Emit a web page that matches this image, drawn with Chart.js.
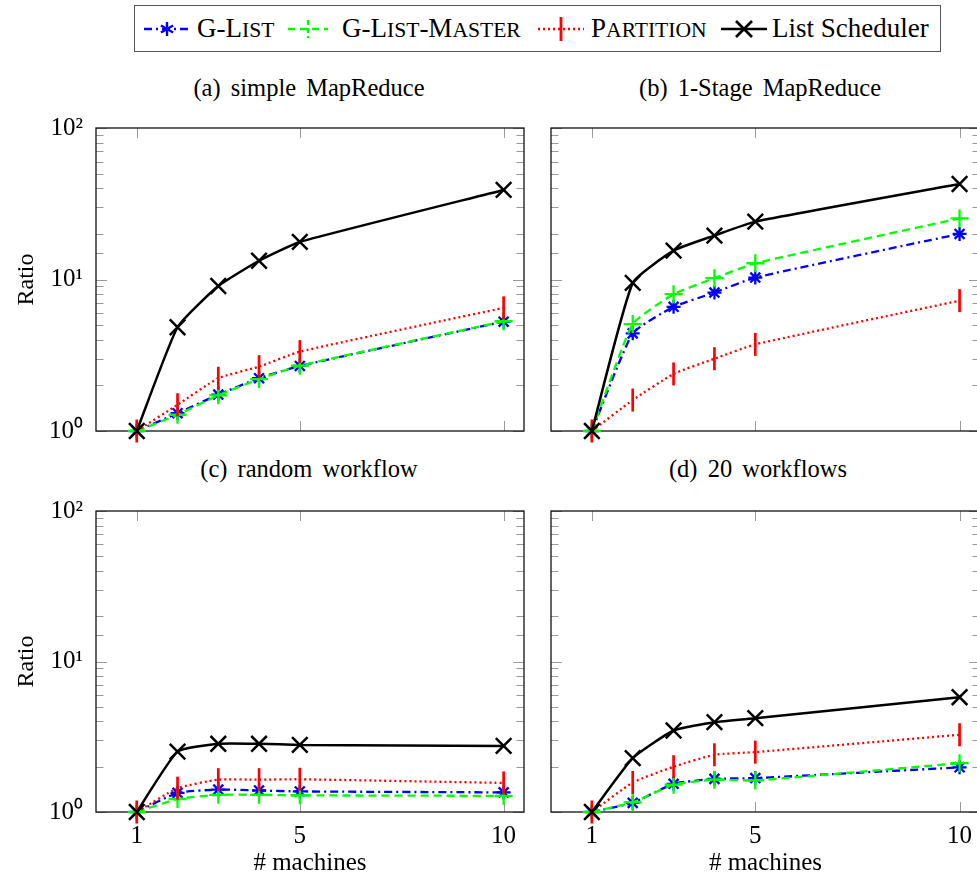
<!DOCTYPE html>
<html>
<head>
<meta charset="utf-8">
<script src="https://cdn.jsdelivr.net/npm/chart.js@4.4.1/dist/chart.umd.min.js"></script>
<style>
  html, body { margin: 0; padding: 0; background: #fff; overflow: hidden; }
  #page { position: relative; width: 977px; height: 878px; overflow: hidden; font-family: 'Liberation Serif', 'Times New Roman', serif; color: #000; }
  .legend { position: absolute; left: 134px; top: 5px; width: 807px; height: 47px; box-sizing: border-box; border: 1.5px solid #555; font-size: 27px; }
  .legend svg, .legend .txt { position: absolute; }
  .legend svg { top: 11px; }
  .legend .txt { top: 6px; line-height: 32px; white-space: nowrap; }
  .sc { font-size: 0.8em; }
  .panel-title { position: absolute; width: 400px; margin-left: -200px; text-align: center; font-size: 24.5px; word-spacing: 4px; line-height: 28px; }
  .panel { position: absolute; }
</style>
</head>
<body>
<div id="page">
  <div class="legend">
    <svg style="left:8px" width="48" height="24"><line x1="1" y1="12" x2="47" y2="12" stroke="#0000ff" stroke-width="2.4" stroke-dasharray="8 4 2 4"/><g stroke="#0000ff" stroke-width="2.4"><line x1="24" y1="5" x2="24" y2="19"/><line x1="17.9" y1="8.5" x2="30.1" y2="15.5"/><line x1="17.9" y1="15.5" x2="30.1" y2="8.5"/></g></svg>
    <span class="txt" style="left:62px">G-L<span class="sc">IST</span></span>
    <svg style="left:152px" width="42" height="24"><line x1="1" y1="12" x2="41" y2="12" stroke="#00ff00" stroke-width="2.4" stroke-dasharray="7 5"/><line x1="21" y1="3" x2="21" y2="21" stroke="#00ff00" stroke-width="2.4" stroke-dasharray="5 3"/></svg>
    <span class="txt" style="left:207px">G-L<span class="sc">IST</span>-M<span class="sc">ASTER</span></span>
    <svg style="left:402px" width="48" height="26"><line x1="1" y1="12" x2="47" y2="12" stroke="#ff0000" stroke-width="2.4" stroke-dasharray="2 3"/><line x1="24" y1="0" x2="24" y2="24" stroke="#ff0000" stroke-width="2.8"/></svg>
    <span class="txt" style="left:456px">P<span class="sc">ARTITION</span></span>
    <svg style="left:585px" width="48" height="24"><line x1="1" y1="12" x2="47" y2="12" stroke="#000" stroke-width="2.6"/><g stroke="#000" stroke-width="2.6"><line x1="16" y1="4" x2="32" y2="20"/><line x1="16" y1="20" x2="32" y2="4"/></g></svg>
    <span class="txt" style="left:637px">List Scheduler</span>
  </div>

  <div class="panel-title" style="left:309px; top:74px;">(a) simple MapReduce</div>
  <div class="panel-title" style="left:760px; top:74px;">(b) 1-Stage MapReduce</div>
  <div class="panel-title" style="left:309px; top:455px;">(c) random workflow</div>
  <div class="panel-title" style="left:758px; top:455px;">(d) 20 workflows</div>

  <div class="panel" style="left:0px; top:100px;"><canvas id="chartA" width="540" height="345"></canvas></div>
  <div class="panel" style="left:540px; top:100px;"><canvas id="chartB" width="450" height="345"></canvas></div>
  <div class="panel" style="left:0px; top:455px;"><canvas id="chartC" width="540" height="423"></canvas></div>
  <div class="panel" style="left:540px; top:455px;"><canvas id="chartD" width="450" height="423"></canvas></div>
</div>

<script>
// number of machines (x values)
const machines = [1, 2, 3, 4, 5, 10];
const xTicks = [1, 5, 10];

// (a) simple MapReduce
const simpleGList = [1, 1.31, 1.74, 2.23, 2.69, 5.27];
const simpleGListMaster = [1, 1.28, 1.72, 2.2, 2.7, 5.3];
const simplePartition = [1, 1.49, 2.23, 2.66, 3.34, 6.5];
const simpleListScheduler = [1, 4.84, 9.06, 13.3, 17.7, 39.0];

// (b) 1-Stage MapReduce
const stageGList = [1, 4.41, 6.6, 8.2, 10.3, 20.0];
const stageGListMaster = [1, 5.08, 8.0, 10.2, 12.8, 25.3];
const stagePartition = [1, 1.6, 2.38, 3.0, 3.73, 7.25];
const stageListScheduler = [1, 9.5, 15.5, 19.5, 24.1, 42.7];

// (c) random workflow
const randomGList = [1, 1.34, 1.41, 1.39, 1.37, 1.35];
const randomGListMaster = [1, 1.22, 1.3, 1.3, 1.29, 1.28];
const randomPartition = [1, 1.44, 1.64, 1.64, 1.65, 1.56];
const randomListScheduler = [1, 2.52, 2.84, 2.84, 2.79, 2.75];

// (d) 20 workflows
const twentyGList = [1, 1.15, 1.54, 1.66, 1.68, 1.98];
const twentyGListMaster = [1, 1.16, 1.52, 1.64, 1.62, 2.11];
const twentyPartition = [1, 1.57, 2.0, 2.4, 2.5, 3.26];
const twentyListScheduler = [1, 2.28, 3.48, 3.95, 4.2, 5.79];

const SUPERS = ['\u2070', '\u00b9', '\u00b2', '\u00b3'];
const FONT = "'Liberation Serif', 'Times New Roman', serif";

function isPow10(v) {
  const e = Math.log10(v);
  return Math.abs(e - Math.round(e)) < 1e-9;
}

function toPoints(values) {
  return machines.map((m, i) => ({ x: m, y: values[i] }));
}

// inner ticks on all four sides + frame, pgfplots style
const framePlugin = {
  id: 'frame',
  beforeDatasetsDraw(chart) {
    const { ctx, chartArea: a, scales: { x, y } } = chart;
    ctx.save();
    ctx.strokeStyle = '#9a9a9a';
    ctx.lineWidth = 1;
    ctx.beginPath();
    y.ticks.forEach((t) => {
      const py = Math.round(y.getPixelForValue(t.value)) + 0.5;
      const len = isPow10(t.value) ? 11 : 7.5;
      ctx.moveTo(a.left, py);
      ctx.lineTo(a.left + len, py);
      ctx.moveTo(a.right, py);
      ctx.lineTo(a.right - len, py);
    });
    x.ticks.forEach((t) => {
      const px = Math.round(x.getPixelForValue(t.value)) + 0.5;
      ctx.moveTo(px, a.top);
      ctx.lineTo(px, a.top + 10);
      ctx.moveTo(px, a.bottom);
      ctx.lineTo(px, a.bottom - 10);
    });
    ctx.stroke();
    ctx.strokeStyle = '#111';
    ctx.lineWidth = 1.3;
    ctx.strokeRect(a.left, a.top, a.right - a.left, a.bottom - a.top);
    ctx.restore();
  }
};

function noPadding(scale) {
  scale.paddingTop = 0;
  scale.paddingBottom = 0;
  scale.paddingLeft = 0;
  scale.paddingRight = 0;
}

function makeDatasets(gList, gListMaster, partition, listScheduler) {
  return [
    {
      label: 'G-List',
      data: toPoints(gList),
      borderColor: '#0000ff',
      backgroundColor: '#0000ff',
      borderWidth: 2.3,
      borderDash: [8, 4, 2, 4],
      pointStyle: 'star',
      pointRadius: 7,
      pointBorderWidth: 2.3,
      order: 4
    },
    {
      label: 'G-List-Master',
      data: toPoints(gListMaster),
      borderColor: '#00ff00',
      backgroundColor: '#00ff00',
      borderWidth: 2.3,
      borderDash: [8, 5],
      pointStyle: 'cross',
      pointRadius: 9,
      pointBorderWidth: 2.3,
      order: 3
    },
    {
      label: 'Partition',
      data: toPoints(partition),
      borderColor: '#ff0000',
      backgroundColor: '#ff0000',
      borderWidth: 2.3,
      borderDash: [2, 3],
      pointStyle: 'line',
      pointRotation: 90,
      pointRadius: 11.5,
      pointBorderWidth: 2.7,
      order: 2
    },
    {
      label: 'List Scheduler',
      data: toPoints(listScheduler),
      borderColor: '#000000',
      backgroundColor: '#000000',
      borderWidth: 2.5,
      pointStyle: 'crossRot',
      pointRadius: 11,
      pointBorderWidth: 2.5,
      order: 1
    }
  ];
}

function makeChart(canvasId, datasets, opts) {
  return new Chart(document.getElementById(canvasId), {
    type: 'line',
    data: { datasets },
    plugins: [framePlugin],
    options: {
      responsive: false,
      animation: false,
      events: [],
      layout: { padding: opts.padding, autoPadding: false },
      elements: { line: { tension: 0.15, fill: false } },
      datasets: { line: { clip: false } },
      plugins: { legend: { display: false }, tooltip: { enabled: false } },
      scales: {
        x: {
          type: 'linear',
          min: 0,
          max: 10.5,
          afterBuildTicks: (scale) => {
            scale.ticks = xTicks.map((v) => ({ value: v }));
          },
          afterFit: (scale) => {
            scale.height = opts.xHeight;
            noPadding(scale);
          },
          grid: { display: false, drawTicks: false },
          border: { display: false },
          ticks: {
            display: opts.xLabels,
            autoSkip: false,
            maxRotation: 0,
            padding: 9,
            color: '#000',
            font: { family: FONT, size: 25 },
            callback: (v) => String(v)
          },
          title: {
            display: opts.xLabels,
            text: '# machines',
            color: '#000',
            font: { family: FONT, size: 25 },
            padding: { top: 0, bottom: 0 }
          }
        },
        y: {
          type: 'logarithmic',
          min: 1,
          max: 100,
          afterFit: (scale) => {
            scale.width = opts.yWidth;
            noPadding(scale);
          },
          grid: { display: false, drawTicks: false },
          border: { display: false },
          ticks: {
            display: opts.yLabels,
            autoSkip: false,
            padding: 13,
            color: '#000',
            font: { family: FONT, size: 25 },
            callback: (v) => (isPow10(v) ? '10' + SUPERS[Math.round(Math.log10(v))] : '')
          },
          title: {
            display: opts.yLabels,
            text: 'Ratio',
            color: '#000',
            font: { family: FONT, size: 24 },
            padding: { top: 0, bottom: 0 }
          }
        }
      }
    }
  });
}

makeChart('chartA', makeDatasets(simpleGList, simpleGListMaster, simplePartition, simpleListScheduler), {
  padding: { top: 28, right: 16, bottom: 0, left: 12 },
  xHeight: 14, yWidth: 84, xLabels: false, yLabels: true
});
makeChart('chartB', makeDatasets(stageGList, stageGListMaster, stagePartition, stageListScheduler), {
  padding: { top: 28, right: 10, bottom: 0, left: 0 },
  xHeight: 14, yWidth: 11, xLabels: false, yLabels: false
});
makeChart('chartC', makeDatasets(randomGList, randomGListMaster, randomPartition, randomListScheduler), {
  padding: { top: 56, right: 16, bottom: 0, left: 12 },
  xHeight: 66, yWidth: 84, xLabels: true, yLabels: true
});
makeChart('chartD', makeDatasets(twentyGList, twentyGListMaster, twentyPartition, twentyListScheduler), {
  padding: { top: 56, right: 10, bottom: 0, left: 0 },
  xHeight: 66, yWidth: 11, xLabels: true, yLabels: false
});
</script>
</body>
</html>
